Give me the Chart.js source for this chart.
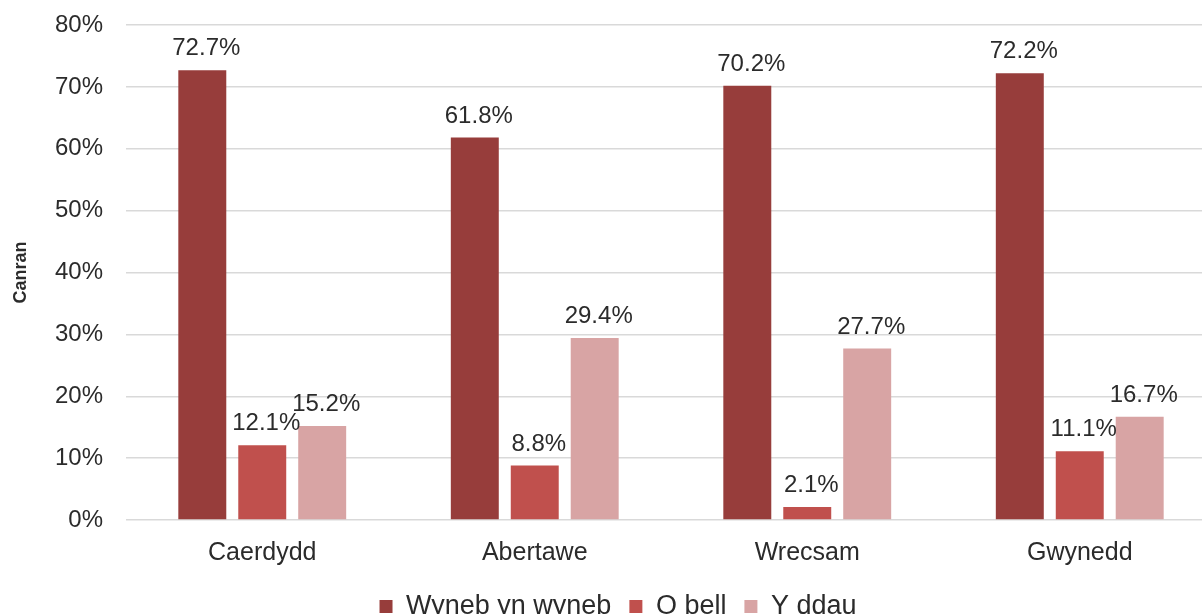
<!DOCTYPE html>
<html>
<head>
<meta charset="utf-8">
<script src="https://cdn.jsdelivr.net/npm/chart.js@4"></script>
<style>
  html, body { margin: 0; padding: 0; background: #fff; overflow: hidden; }
  #wrap { width: 1216px; height: 614px; position: relative; }
</style>
</head>
<body>
<div id="wrap"><canvas id="chart"></canvas></div>
<script>
const categories = ["Caerdydd", "Abertawe", "Wrecsam", "Gwynedd"];
const seriesNames = ["Wyneb yn wyneb", "O bell", "Y ddau"];
const wynebData = [72.7, 61.8, 70.2, 72.2];
const obellData = [12.1, 8.8, 2.1, 11.1];
const ddauData = [15.2, 29.4, 27.7, 16.7];
const yTicks = [0, 10, 20, 30, 40, 50, 60, 70, 80];

const textColor = "#2b2b2b";
const font = "'Liberation Sans', Arial, sans-serif";

// labels above each bar
const barLabels = {
    id: "barLabels",
    afterDatasetsDraw(chart) {
        const ctx = chart.ctx;
        ctx.save();
        ctx.font = "24px " + font;
        ctx.fillStyle = textColor;
        ctx.textAlign = "center";
        ctx.textBaseline = "alphabetic";
        chart.data.datasets.forEach((ds, i) => {
            chart.getDatasetMeta(i).data.forEach((bar, j) => {
                ctx.fillText(ds.data[j].toFixed(1) + "%", bar.x + 4, bar.y - 15);
            });
        });
        ctx.restore();
    },
};

// move legend to where the original has it
const legendShift = {
    id: "legendShift",
    afterLayout(chart) {
        const lg = chart.legend;
        const h = lg.bottom - lg.top;
        lg.left += 10;
        lg.right += 10;
        lg.top = 575;
        lg.bottom = 575 + h;
    },
};

const chart = new Chart(document.getElementById("chart"), {
    type: "bar",
    data: {
        labels: categories,
        datasets: [
            { label: seriesNames[0], data: wynebData, backgroundColor: "#973d3b" },
            { label: seriesNames[1], data: obellData, backgroundColor: "#c0504d" },
            { label: seriesNames[2], data: ddauData, backgroundColor: "#d8a4a4" },
        ],
    },
    options: {
        responsive: true,
        maintainAspectRatio: false,
        animation: false,
        layout: { padding: { top: 25, left: 0, right: 0, bottom: -11 } },
        datasets: {
            bar: { barPercentage: 0.8, categoryPercentage: 0.66 },
        },
        plugins: {
            legend: {
                position: "bottom",
                labels: {
                    boxWidth: 13,
                    boxHeight: 13,
                    padding: 18,
                    color: textColor,
                    font: { family: font, size: 27 },
                },
            },
            tooltip: { enabled: false },
        },
        scales: {
            x: {
                afterFit(scale) { scale.height = 50; },
                grid: { display: false },
                border: { display: false },
                ticks: {
                    color: textColor,
                    padding: 10,
                    font: { family: font, size: 25 },
                },
            },
            y: {
                min: 0,
                max: 80,
                afterFit(scale) {
                    scale.width = 126;
                    scale.paddingTop = 0;
                    scale.paddingBottom = 0;
                },
                afterBuildTicks(scale) {
                    scale.ticks = yTicks.map(v => ({ value: v }));
                },
                border: { display: false },
                grid: { color: "#d9d9d9", lineWidth: 1.5, drawTicks: false },
                ticks: {
                    color: textColor,
                    padding: 23,
                    font: { family: font, size: 24 },
                    callback: v => v + "%",
                },
                title: {
                    display: true,
                    text: "Canran",
                    color: textColor,
                    font: { family: font, size: 18, weight: "bold" },
                    padding: { top: 10, bottom: 0 },
                },
            },
        },
    },
    plugins: [barLabels, legendShift],
});
</script>
</body>
</html>
